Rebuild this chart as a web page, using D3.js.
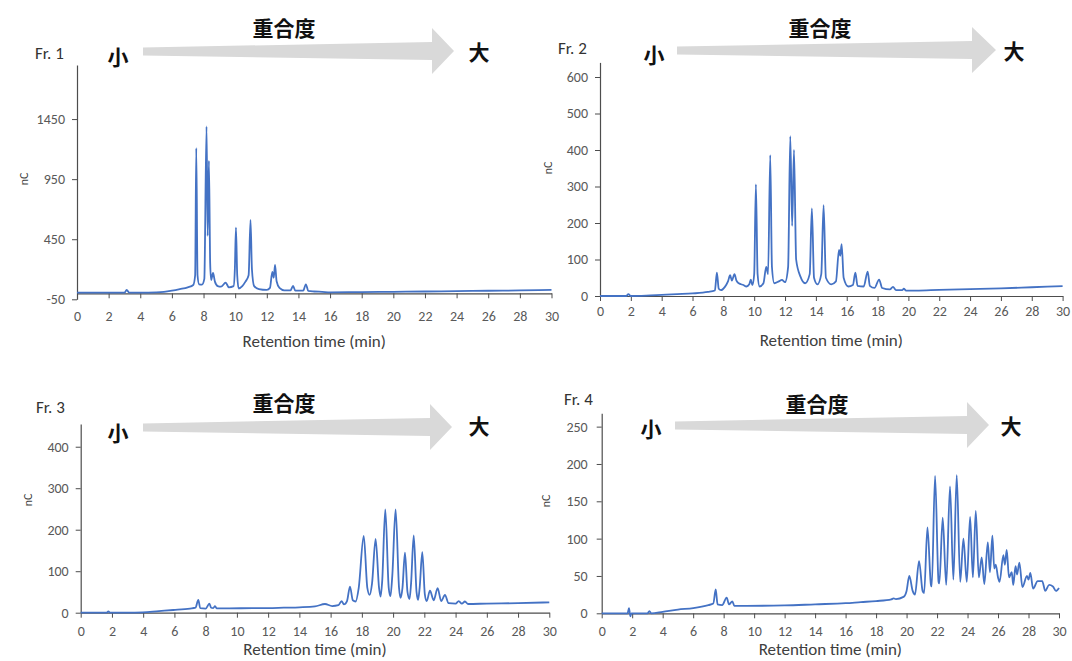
<!DOCTYPE html>
<html>
<head>
<meta charset="utf-8">
<script src="https://cdn.jsdelivr.net/npm/d3@7"></script>
<style>
  html, body { margin: 0; padding: 0; background: #fff; }
  svg { display: block; }
  .tick text { font-family: Calibri, Carlito, Lato, sans-serif; fill: #595959; }
</style>
</head>
<body>
<svg id="chart" width="1072" height="661"></svg>
<script>
// ---------- data (retention time in min, signal in nC) ----------
const xTickValues = [0, 2, 4, 6, 8, 10, 12, 14, 16, 18, 20, 22, 24, 26, 28, 30];
const fr1YTicks = [-50, 450, 950, 1450];
const fr2YTicks = [0, 100, 200, 300, 400, 500, 600];
const fr3YTicks = [0, 100, 200, 300, 400];
const fr4YTicks = [0, 50, 100, 150, 200, 250];
const fractionLabels = ["Fr. 1", "Fr. 2", "Fr. 3", "Fr. 4"];
const arrowTitle = "重合度";
const smallLabel = "小";
const largeLabel = "大";
const xTitle = "Retention time (min)";
const yTitle = "nC";

const fr1 = [[0,5],[1,5],[2,5],[3.0,5],[3.14,28],[3.3,5],[4,6],[5,8],[5.5,12],[6,22],[6.5,35],[7,50],[7.35,69],[7.47,150],[7.54,1208],[7.62,150],[7.72,75],[7.9,72],[8.05,120],[8.19,1388],[8.26,478],[8.34,1102],[8.42,250],[8.48,111],[8.6,169],[8.72,97],[8.9,60],[9.1,55],[9.4,88],[9.6,50],[9.9,60],[9.98,200],[10.05,547],[10.13,150],[10.22,40],[10.45,60],[10.65,97],[10.85,150],[10.97,611],[11.06,200],[11.2,60],[11.5,35],[12.0,28],[12.2,45],[12.35,178],[12.44,130],[12.52,236],[12.62,100],[12.8,45],[13.1,25],[13.5,25],[13.66,61],[13.8,22],[14.3,22],[14.47,75],[14.62,20],[15.0,15],[15.5,12],[16,8],[18,10],[20,12],[22,15],[24,18],[26,21],[28,24],[30,28]];

const fr2 = [[0,0],[1.7,0],[1.84,5],[2.0,0],[3,1],[4,3],[5,5],[6,7],[7,11],[7.45,15],[7.58,64],[7.7,20],[7.85,16],[8.1,25],[8.3,40],[8.44,57],[8.55,42],[8.72,60],[8.85,42],[9.0,35],[9.3,30],[9.5,26],[9.68,32],[9.78,45],[9.88,30],[10.0,60],[10.11,306],[10.22,60],[10.35,26],[10.6,35],[10.78,80],[10.9,60],[11.04,386],[11.15,80],[11.3,35],[11.6,40],[11.8,44],[12.0,38],[12.2,80],[12.34,438],[12.46,192],[12.58,400],[12.72,100],[13.0,53],[13.3,35],[13.6,60],[13.74,240],[13.88,50],[14.1,32],[14.35,60],[14.5,249],[14.65,50],[15.0,32],[15.3,40],[15.5,126],[15.58,110],[15.67,142],[15.8,50],[16.1,26],[16.4,30],[16.56,64],[16.7,28],[17.1,26],[17.36,67],[17.5,28],[17.8,22],[18.1,45],[18.3,22],[18.8,18],[19.0,25],[19.2,16],[19.6,16],[19.7,20],[19.85,15],[20.5,15],[22,17],[24,19],[26,21],[28,24],[30,27]];

const fr3 = [[0,0],[1.65,0],[1.77,3],[1.9,0],[3,0],[3.97,1],[5,4],[5.93,6.5],[7,10],[7.35,12],[7.53,31],[7.65,11],[8.0,10],[8.24,22],[8.35,12],[8.48,11],[8.6,16],[8.7,10.5],[9.5,10.5],[11,11],[12,11],[13,12],[14,13],[15,15],[15.64,21],[16.1,16],[16.5,18],[16.7,28],[16.85,20],[17.05,28],[17.24,63],[17.42,30],[17.6,27],[17.8,60],[18.12,185],[18.35,60],[18.5,43],[18.65,70],[18.88,178],[19.1,60],[19.2,39],[19.3,75],[19.5,249],[19.72,60],[19.83,40],[19.95,90],[20.16,249],[20.38,60],[20.48,36],[20.6,60],[20.76,145],[20.92,50],[21.05,33],[21.15,70],[21.32,186],[21.5,50],[21.6,31],[21.7,60],[21.87,146],[22.03,45],[22.15,28],[22.36,53],[22.6,30],[22.85,59],[23.08,28],[23.32,43],[23.55,23],[24.0,22],[24.2,28],[24.4,22],[24.6,27],[24.8,21],[26,22],[28,23],[30,25]];

const fr4 = [[0,0],[1.7,0],[1.79,7],[1.88,-4],[1.95,0],[3.0,0],[3.13,3],[3.25,0],[4,2],[5,5],[6.01,7],[7,11],[7.32,13],[7.48,32],[7.6,12],[7.9,11],[8.2,21],[8.35,12],[8.57,16],[8.7,10],[9.5,10],[12,10.5],[14,12],[16,13.5],[17,15],[18,16.4],[19,18.7],[19.15,20],[19.3,19],[19.8,22],[20.0,30],[20.18,50],[20.4,30],[20.55,25],[20.82,70],[21.05,30],[21.15,27],[21.37,115],[21.6,38],[21.65,36],[21.87,184],[22.1,42],[22.15,40],[22.37,128],[22.6,38],[22.85,170],[23.07,45],[23.29,185],[23.52,42],[23.73,100],[23.95,42],[24.17,129],[24.35,48],[24.54,137],[24.74,48],[24.93,75],[25.1,39],[25.33,95],[25.47,55],[25.63,104],[25.75,60],[25.85,65],[26.0,48],[26.1,42],[26.35,78],[26.45,65],[26.57,85],[26.72,48],[26.9,55],[27.0,38],[27.15,63],[27.25,52],[27.4,68],[27.6,35],[27.9,50],[28.0,45],[28.12,54],[28.3,33],[28.6,43],[28.9,43],[29.1,30],[29.35,38],[29.6,36],[29.8,30],[30,34]];

// ---------- layout ----------
const panels = [
  { data: fr1, yTicks: fr1YTicks, label: fractionLabels[0],
    x0: 77, x1: 551.5, yDom: [-50, 1900], yRng: [299.3, 65], xAxisVal: 0,
    tickLabelY: 18, yPad: 7, titleY: 341, nC: [24, 179],
    fr: [35, 59], arrow: [143, 432, 454, 51], small: [118, 56], big: [479, 51], head: [284, 27] },
  { data: fr2, yTicks: fr2YTicks, label: fractionLabels[1],
    x0: 600, x1: 1062.6, yDom: [0, 640], yRng: [296, 62.4], xAxisVal: 0,
    tickLabelY: 10, yPad: 7, titleY: 340, nC: [548, 168],
    fr: [558, 54], arrow: [677, 972, 996, 50], small: [654, 54], big: [1014, 50], head: [820, 27] },
  { data: fr3, yTicks: fr3YTicks, label: fractionLabels[2],
    x0: 80.7, x1: 549.3, yDom: [0, 455], yRng: [612.7, 423.9], xAxisVal: 0,
    tickLabelY: 13, yPad: 7, titleY: 649, nC: [28, 500],
    fr: [36, 413], arrow: [143, 430, 452, 427], small: [118, 432], big: [479, 425], head: [284, 402] },
  { data: fr4, yTicks: fr4YTicks, label: fractionLabels[3],
    x0: 601.7, x1: 1059, yDom: [0, 268], yRng: [613.3, 413.2], xAxisVal: 0,
    tickLabelY: 13, yPad: 9, titleY: 649.5, nC: [546, 501],
    fr: [564, 405], arrow: [675, 967, 989, 425], small: [651, 428], big: [1011, 425], head: [817, 403] }
];

const svg = d3.select("#chart");
const lineColor = "#4472C4";
const axisColor = "#4d4d4d";
const cjk = "'Noto Sans CJK JP', 'Noto Sans CJK SC', sans-serif";
const latin = "Calibri, Carlito, Lato, sans-serif";

panels.forEach(p => {
  const g = svg.append("g");
  const x = d3.scaleLinear().domain([0, 30]).range([p.x0, p.x1]);
  const y = d3.scaleLinear().domain(p.yDom).range(p.yRng);

  // header: arrow + labels
  const [tx, bx, px, cy] = p.arrow;
  const pts = [[tx, cy - 3.5], [bx, cy - 9], [bx, cy - 23], [px, cy], [bx, cy + 23], [bx, cy + 9], [tx, cy + 4.5]];
  g.append("polygon").attr("points", pts.map(d => d.join(",")).join(" "))
    .attr("fill", "#d9d9d9");
  [[arrowTitle, p.head], [smallLabel, p.small], [largeLabel, p.big]].forEach(([t, pos]) => {
    g.append("text").attr("x", pos[0]).attr("y", pos[1]).attr("text-anchor", "middle")
      .attr("dominant-baseline", "central").attr("font-family", cjk).attr("font-weight", 700)
      .attr("font-size", 21).attr("fill", "#111").text(t);
  });
  g.append("text").attr("x", p.fr[0]).attr("y", p.fr[1]).attr("font-family", latin)
    .attr("font-size", 17).attr("fill", "#333").text(p.label);

  // axes
  const fmt = d => String(d);
  const yAxis = g.append("g").attr("transform", `translate(${p.x0},0)`)
    .call(d3.axisLeft(y).tickValues(p.yTicks).tickFormat(fmt).tickSize(5).tickSizeOuter(0).tickPadding(p.yPad));
  const xAxis = g.append("g").attr("transform", `translate(0,${y(p.xAxisVal)})`)
    .call(d3.axisBottom(x).tickValues(xTickValues).tickFormat(fmt).tickSize(5).tickSizeOuter(0));
  xAxis.selectAll(".tick text").attr("y", p.tickLabelY);
  [yAxis, xAxis].forEach(a => {
    a.select(".domain").attr("stroke", axisColor).attr("stroke-width", 1.2);
    a.selectAll(".tick line").attr("stroke", axisColor);
    a.selectAll(".tick text").attr("font-size", 14).attr("font-family", latin).attr("fill", "#595959");
  });

  // chromatogram line
  const line = d3.line().x(d => x(d[0])).y(d => y(d[1])).curve(d3.curveMonotoneX);
  g.append("path").datum(p.data).attr("d", line)
    .attr("fill", "none").attr("stroke", lineColor).attr("stroke-width", 1.8)
    .attr("stroke-linejoin", "round");

  // titles
  g.append("text").attr("x", (p.x0 + p.x1) / 2).attr("y", p.titleY).attr("text-anchor", "middle")
    .attr("dominant-baseline", "central").attr("font-family", latin).attr("font-size", 17)
    .attr("fill", "#404040").text(xTitle);
  g.append("text").attr("transform", `translate(${p.nC[0]},${p.nC[1]}) rotate(-90)`)
    .attr("text-anchor", "middle").attr("dominant-baseline", "central")
    .attr("font-family", latin).attr("font-size", 12).attr("fill", "#404040").text(yTitle);
});
</script>
</body>
</html>
